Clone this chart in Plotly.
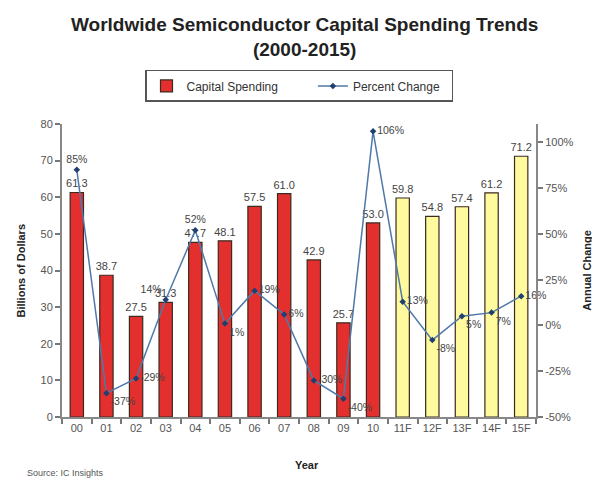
import plotly.graph_objects as go

years = ["00", "01", "02", "03", "04", "05", "06", "07", "08", "09", "10",
         "11F", "12F", "13F", "14F", "15F"]
capital_spending = [61.3, 38.7, 27.5, 31.3, 47.7, 48.1, 57.5, 61.0, 42.9, 25.7, 53.0,
                    59.8, 54.8, 57.4, 61.2, 71.2]
percent_change = [85, -37, -29, 14, 52, 1, 19, 6, -30, -40, 106, 13, -8, 5, 7, 16]
pct_text_pos = ["top center", "bottom right", "middle right", "top left", "top center",
                "bottom right", "middle right", "middle right", "middle right", "bottom right",
                "middle right", "middle right", "bottom right", "bottom right", "bottom right",
                "middle right"]
actual_color = "#E3302F"
forecast_color = "#FFFA9E"
bar_colors = [actual_color if not y.endswith("F") else forecast_color for y in years]

FONT = "Liberation Sans, Arial, sans-serif"

fig = go.Figure()
fig.add_trace(go.Bar(
    x=years, y=capital_spending, name="Capital Spending         ",
    marker=dict(color=bar_colors, line=dict(color="#3a2a20", width=1.2)),
    width=0.45,
    text=[f"{v:.1f}" for v in capital_spending], textposition="outside",
    constraintext="none",
    textfont=dict(size=11, color="#444", family=FONT), cliponaxis=False,
    legendrank=1,
))
fig.add_trace(go.Scatter(
    x=years, y=percent_change, name="Percent Change  ", yaxis="y2",
    mode="lines+markers+text",
    line=dict(color="#4F79A8", width=1.5),
    marker=dict(color="#1F3F6F", size=5, symbol="diamond"),
    text=[f"{v}%" for v in percent_change], textposition=pct_text_pos,
    textfont=dict(size=10.5, color="#444", family=FONT), cliponaxis=False,
    legendrank=2,
))

axis_common = dict(showline=True, linecolor="#888", linewidth=2, ticks="outside",
                   ticklen=5, tickcolor="#777", tickwidth=2, showgrid=False,
                   zeroline=False, tickfont=dict(size=11, color="#555"), automargin=False)

fig.update_layout(
    width=592, height=474,
    margin=dict(l=54, r=64, t=116, b=65, autoexpand=False),
    paper_bgcolor="white", plot_bgcolor="white",
    font=dict(family=FONT, color="#444", size=11),
    legend=dict(orientation="h", x=0.5, xanchor="center", y=1.13, yanchor="middle",
                bordercolor="#555", borderwidth=1.5, bgcolor="white",
                font=dict(size=12, color="#333", family=FONT),
                itemwidth=30, tracegroupgap=0),
    xaxis=dict(type="category", range=[-0.5, 15.5], tickson="boundaries", **axis_common),
    yaxis=dict(range=[0, 80], dtick=10, **axis_common),
    yaxis2=dict(overlaying="y", side="right", range=[-50, 110],
                tickvals=[-50, -25, 0, 25, 50, 75, 100],
                ticktext=["-50%", "-25%", "0%", "25%", "50%", "75%", "100%"],
                **axis_common),
    annotations=[
        dict(text="<b>Worldwide Semiconductor Capital Spending Trends<br>(2000-2015)</b>",
             xref="paper", yref="paper", x=0.512, y=(409 - 28.5) / 293,
             xanchor="center", yanchor="middle", showarrow=False,
             font=dict(size=19, color="#222", family=FONT)),
        dict(text="Source: IC Insights", xref="paper", yref="paper",
             x=-0.078, y=-0.191, xanchor="left", yanchor="middle", showarrow=False,
             font=dict(size=9, color="#555", family=FONT)),
        dict(text="<b>Year</b>", xref="paper", yref="paper", x=0.517, y=-0.164,
             xanchor="center", yanchor="middle", showarrow=False,
             font=dict(size=11, color="#222", family=FONT)),
        dict(text="<b>Billions of Dollars</b>", xref="paper", yref="paper", x=-0.0886, y=0.5,
             xanchor="center", yanchor="middle", showarrow=False, textangle=-90,
             font=dict(size=11, color="#222", family=FONT)),
        dict(text="<b>Annual Change</b>", xref="paper", yref="paper", x=1.106, y=0.5,
             xanchor="center", yanchor="middle", showarrow=False, textangle=-90,
             font=dict(size=11, color="#222", family=FONT)),
    ],
)

fig.write_html("out.html")
